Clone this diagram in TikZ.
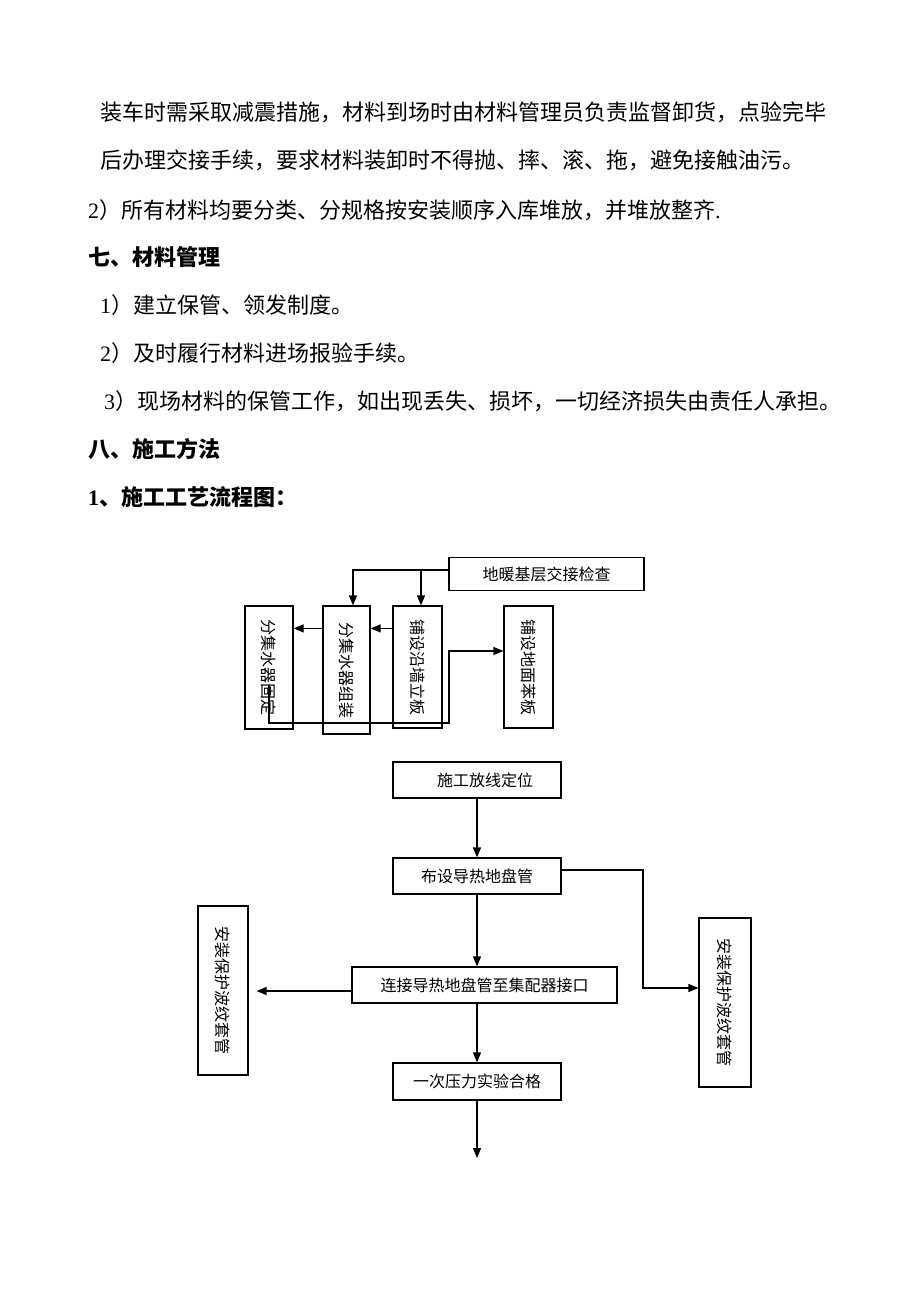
\documentclass[tikz,border=0pt]{standalone}
\usepackage{fontspec}
\usepackage{graphicx}
\setmainfont{Noto Sans CJK SC}
\newfontfamily\lat{Liberation Serif}
\usetikzlibrary{arrows.meta}

\tikzset{
  para/.style={anchor=west,inner sep=0pt,font=\fontsize{22pt}{26pt}\selectfont},
  head/.style={para,font=\fontsize{22pt}{26pt}\selectfont\bfseries},
  box/.style={draw,line width=1.2pt,inner sep=0pt,font=\fontsize{16pt}{18pt}\selectfont},
  arr/.style={line width=1.2pt,-{Triangle[length=10pt,width=8pt]}},
  link/.style={line width=1.2pt}
}

\begin{document}
\begin{tikzpicture}[x=1pt,y=-1pt]
\useasboundingbox (0,0) rectangle (920,1302);

% text above the chart
\node[para] (l1) at (100,112) {装车时需采取减震措施，材料到场时由材料管理员负责监督卸货，点验完毕};
\node[para] (l2) at (100,160) {后办理交接手续，要求材料装卸时不得抛、摔、滚、拖，避免接触油污。};
\node[para] (l3) at (88,210) {{\lat 2}）所有材料均要分类、分规格按安装顺序入库堆放，并堆放整齐{\lat .}};
\node[head] (h7) at (88,257) {七、材料管理};
\node[para] (m1) at (100,305) {{\lat 1}）建立保管、领发制度。};
\node[para] (m2) at (100,353) {{\lat 2}）及时履行材料进场报验手续。};
\node[para] (m3) at (104,401) {{\lat 3}）现场材料的保管工作，如出现丢失、损坏，一切经济损失由责任人承担。};
\node[head] (h8) at (88,449) {八、施工方法};
\node[head] (h81) at (88,497) {{\lat\bfseries 1}、施工工艺流程图：};

% upper chart
\node[box,minimum width=195,minimum height=33] (check) at (546.5,574) {地暖基层交接检查};
\node[box,minimum width=48,minimum height=123] (fix) at (269,667.5) {\rotatebox{-90}{分集水器固定}};
\node[box,minimum width=47,minimum height=128] (asm) at (346.5,670) {\rotatebox{-90}{分集水器组装}};
\node[box,minimum width=49,minimum height=122] (wall) at (417.5,667) {\rotatebox{-90}{铺设沿墙立板}};
\node[box,minimum width=49,minimum height=122] (foam) at (528.5,667) {\rotatebox{-90}{铺设地面苯板}};

\coordinate (tap) at ([yshift=4pt]check.west);
\coordinate (in1) at ([xshift=6.5pt]asm.north);
\coordinate (in2) at ([xshift=3.5pt]wall.north);
\draw[arr] (tap) -| (in1);
\draw[arr] (in2 |- tap) -- (in2);
\draw[arr] ([yshift=-23pt]wall.north west) -- ([yshift=-23pt]asm.north east);
\draw[arr] ([yshift=-23pt]asm.north west) -- ([yshift=-23pt]fix.north east);

\coordinate (start) at (269,685);
\coordinate (bend) at (449,723);
\draw[arr] (start) |- (bend) |- ([yshift=16pt]foam.west);

% lower chart
\node[box,minimum width=168,minimum height=36] (lay) at (477,780) {\hspace{16pt}施工放线定位};
\node[box,minimum width=168,minimum height=36] (coil) at (477,876) {布设导热地盘管};
\node[box,minimum width=265,minimum height=36] (join) at (484.5,985) {连接导热地盘管至集配器接口};
\node[box,minimum width=168,minimum height=37] (test) at (477,1081.5) {一次压力实验合格\hspace{16pt}};
\node[box,minimum width=50,minimum height=169] (sleeveL) at (223,990.5) {\rotatebox{-90}{安装保护波纹套管}};
\node[box,minimum width=52,minimum height=169] (sleeveR) at (725,1002.5) {\rotatebox{-90}{安装保护波纹套管}};

\draw[arr] (lay) -- (coil);
\draw[arr] (coil.south) -- (coil.south |- join.north);
\draw[arr] (test.north |- join.south) -- (test.north);

\coordinate (jl) at ([yshift=-6pt]join.west);
\draw[arr,shorten >=8pt] (jl) -- (jl -| sleeveL.east);

\coordinate (cr) at ([yshift=6pt]coil.east);
\coordinate (rb) at (643,988);
\draw[arr] (cr) -| (rb) -- (rb -| sleeveR.west);

\coordinate (out) at (477,1158);
\draw[arr] (test) -- (out);

\end{tikzpicture}
\end{document}
